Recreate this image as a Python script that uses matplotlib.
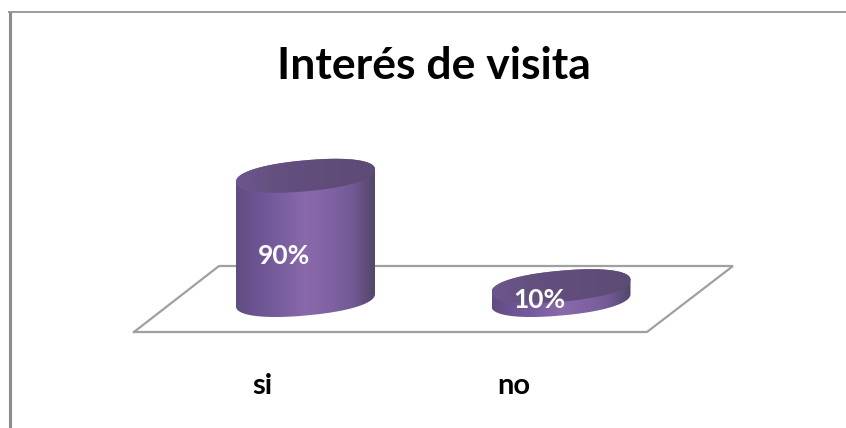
import numpy as np
import matplotlib
matplotlib.use("Agg")
import matplotlib.pyplot as plt
from matplotlib.colors import LinearSegmentedColormap
from matplotlib.patches import Polygon

title = "Interés de visita"
categories = ["si", "no"]
values = [90, 10]
value_labels = ["90%", "10%"]

# layout in pixels
bar_x = [305.5, 561]
label_x = [262, 514]
text_x = [284, 539]
text_y = [256, 300]
base_y = 300
px_per_value = 1.38
half_w = 69.5
half_h = 15.5
skew = 0.088
roundness = 0.9

side_cmap = LinearSegmentedColormap.from_list(
    "side", ["#5f4d80", "#6e5593", "#7b5fa0", "#8a69aa", "#8063a4", "#735a96", "#544669"])
top_cmap = LinearSegmentedColormap.from_list(
    "top", ["#6d5690", "#65517f", "#624e7c", "#5f4c78", "#5d4b74"])


def outline(cx, cy, start, stop):
    t = np.linspace(start, stop, 160)
    c = np.sign(np.cos(t)) * np.abs(np.cos(t)) ** roundness
    s = np.sign(np.sin(t)) * np.abs(np.sin(t)) ** roundness
    x = cx + half_w * c
    y = cy + half_h * s - skew * half_w * c
    return x, y


def draw_cylinder(ax, cx, value):
    top_y = base_y - value * px_per_value
    # side of the cylinder, from left edge of top to the bottom curve
    x_top, y_top = outline(cx, top_y, np.pi, 2 * np.pi)
    x_bot, y_bot = outline(cx, base_y, 0, np.pi)
    side = Polygon(np.column_stack([np.r_[x_top, x_bot], np.r_[y_top, y_bot]]),
                   fc="none", ec="none", zorder=3)
    ax.add_patch(side)
    grad = np.linspace(0, 1, 256).reshape(1, -1)
    im = ax.imshow(grad, cmap=side_cmap, aspect="auto", zorder=3,
                   extent=(cx - half_w, cx + half_w, base_y + 30, top_y - 30))
    im.set_clip_path(side)
    # top of the cylinder
    x_cap, y_cap = outline(cx, top_y, 0, 2 * np.pi)
    cap = Polygon(np.column_stack([x_cap, y_cap]), fc="none", ec="none", zorder=4)
    ax.add_patch(cap)
    im2 = ax.imshow(grad, cmap=top_cmap, aspect="auto", zorder=4,
                    extent=(cx - half_w, cx + half_w, top_y + 30, top_y - 30))
    im2.set_clip_path(cap)


def main():
    fig = plt.figure(figsize=(8.46, 4.28), dpi=100)
    ax = fig.add_axes([0, 0, 1, 1])
    ax.axis("off")

    # outer frame
    ax.plot([9.5, 9.5], [428, 11.5], color="#8c8c8c", lw=2.2, solid_capstyle="butt")
    ax.plot([8, 846], [11.5, 11.5], color="#8c8c8c", lw=1.2, solid_capstyle="butt")

    # floor of the 3D chart
    floor_x = [134, 219, 733, 647, 134]
    floor_y = [332, 266, 266, 332, 332]
    ax.plot(floor_x, floor_y, color="#a0a0a0", lw=1.6, solid_joinstyle="miter", zorder=2)

    for cx, val in zip(bar_x, values):
        draw_cylinder(ax, cx, val)

    ax.set_xlim(0, 846)
    ax.set_ylim(428, 0)

    ax.text(434, 66, title, fontsize=32, fontweight="bold", family="Lato",
            ha="center", va="center", color="black")
    for x, name in zip(label_x, categories):
        ax.text(x, 386, name, fontsize=21, fontweight="bold", family="Lato",
                ha="center", va="center", color="black")
    for x, y, lab in zip(text_x, text_y, value_labels):
        ax.text(x, y, lab, fontsize=19, fontweight="bold", family="Lato",
                ha="center", va="center", color="white", zorder=5)

    fig.savefig("out.png", dpi=100)


if __name__ == "__main__":
    main()
